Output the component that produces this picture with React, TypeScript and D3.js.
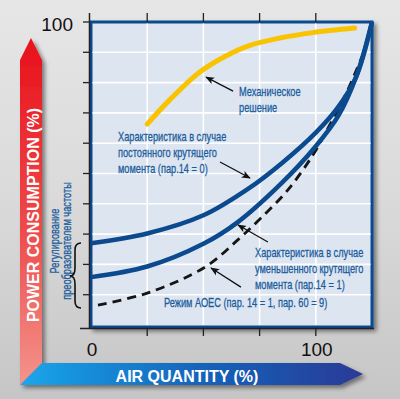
import * as d3 from "d3";

// curves (x = air quantity %, y = power consumption %)
const mechX = [25, 35, 48.4, 60, 70.7, 84, 98.7, 117.3];
const mechY = [66.3, 74.3, 83.5, 88.8, 92.3, 94.7, 96.5, 98];
const constX = [0, 25, 50, 70, 85, 100, 110, 118, 125];
const constY = [27, 30.2, 36.2, 45, 53.5, 63.5, 72, 82, 100];
const reducedX = [0, 25, 50, 65, 85, 100, 110, 118, 125];
const reducedY = [15.8, 19.3, 26.8, 33.8, 47, 59, 69, 82, 100];
const aoecX = [3.1, 25.3, 50.7, 65.3, 75.6, 87.6, 98.7, 106.2, 113.8, 120.9];
const aoecY = [6.6, 10.6, 19.1, 28.1, 35.3, 44.6, 56.1, 66, 76.9, 89.1];

const gridX = [25, 50, 75, 100];
const gridY = [10, 20, 30, 40, 50, 60, 70, 80, 90];
const xTickLabels = [0, 100];
const yTickLabels = [100];

// annotation arrows: [fromX, fromY, toX, toY] in data units
const arrows = [
  [63.2, 77.2, 51.2, 81.8],
  [57.4, 53.8, 70.7, 48.5],
  [78.7, 27.4, 65.4, 33.0],
  [66.7, 12.5, 53.4, 18.8],
];

const mechLabel = ["Механическое", "решение"];
const constLabel = ["Характеристика в случае", "постоянного крутящего", "момента (пар.14 = 0)"];
const reducedLabel = ["Характеристика в случае", "уменьшенного крутящего", "момента (пар.14 = 1)"];
const aoecLabel = "Режим АОЕС  (пар. 14 = 1, пар. 60 = 9)";
const vfdLabel = ["Регулирование", "преобразователем частоты"];

const W = 400;
const H = 399;
const BLUE = "#0b4a8e";
const TEXT_BLUE = "#1b5c9c";
const SANS = "'Liberation Sans', Arial, sans-serif";
const SQUEEZE = 0.71; // no condensed face installed, so squeeze horizontally

function Narrow({ x, y, rotate = 0, anchor = "start", children }: any) {
  return (
    <text
      transform={`translate(${x},${y}) rotate(${rotate}) scale(${SQUEEZE},1)`}
      textAnchor={anchor}
    >
      {children}
    </text>
  );
}

export default function App() {
  const x = d3.scaleLinear().domain([0, 125]).range([91, 372]);
  const y = d3.scaleLinear().domain([0, 100]).range([325, 22]);

  const line = d3
    .line<number>()
    .x((d) => x(d))
    .curve(d3.curveCatmullRom.alpha(0.5));
  const path = (xs: number[], ys: number[]) => line.y((_, i) => y(ys[i]))(xs) || "";

  const left = x(0);
  const right = x(125);
  const top = y(100);
  const bottom = y(0);

  return (
    <svg width={W} height={H} style={{ position: "absolute", left: 0, top: 0 }}>
      <defs>
        <linearGradient id="bg" x1="0" y1="0" x2="0" y2="1">
          <stop offset="0" stopColor="#e6e6e6" />
          <stop offset="0.5" stopColor="#dadada" />
          <stop offset="1" stopColor="#c6c6c6" />
        </linearGradient>
        <linearGradient id="red" x1="0" y1="0" x2="0" y2="1">
          <stop offset="0" stopColor="#e8111b" />
          <stop offset="0.55" stopColor="#ee4a4a" />
          <stop offset="1" stopColor="#f3948c" />
        </linearGradient>
        <linearGradient id="blue" x1="0" y1="0" x2="1" y2="0">
          <stop offset="0" stopColor="#1ba7ea" />
          <stop offset="0.5" stopColor="#1266bd" />
          <stop offset="1" stopColor="#2b3a96" />
        </linearGradient>
        <filter id="shadow" x="-10%" y="-10%" width="130%" height="130%">
          <feDropShadow dx="3" dy="3" stdDeviation="2" floodColor="#000" floodOpacity="0.45" />
        </filter>
        <marker id="head" viewBox="0 0 10 10" refX="9" refY="5" markerWidth="9" markerHeight="9" orient="auto" markerUnits="userSpaceOnUse">
          <path d="M0,1 L10,5 L0,9 L2.5,5 Z" fill="#111" />
        </marker>
      </defs>

      <rect width={W} height={H} fill="url(#bg)" />

      {/* axis arrows */}
      <g filter="url(#shadow)">
        <path d="M20,60 L31,38 L42,60 L42,363 L20,385 Z" fill="url(#red)" />
        <path d="M20,385 L42,363 L340,363 L363,374 L340,385 Z" fill="url(#blue)" />
      </g>
      <text
        transform="translate(39,215) rotate(-90)"
        textAnchor="middle"
        fontFamily={SANS}
        fontWeight="bold"
        fontSize={16}
        fill="#fff"
      >
        POWER CONSUMPTION (%)
      </text>
      <text x={187} y={382} textAnchor="middle" fontFamily={SANS} fontWeight="bold" fontSize={16} fill="#fff">
        AIR QUANTITY (%)
      </text>

      {/* plot frame */}
      <rect
        x={left}
        y={top}
        width={right - left}
        height={bottom - top + 2}
        fill="#dde5f0"
        stroke={BLUE}
        strokeWidth={3}
        filter="url(#shadow)"
      />
      {gridX.map((v) => (
        <line key={"gx" + v} x1={x(v)} x2={x(v)} y1={top + 1.5} y2={bottom} stroke="#fff" strokeWidth={1.6} />
      ))}
      {gridY.map((v) => (
        <line key={"gy" + v} x1={left + 1.5} x2={right - 1.5} y1={y(v)} y2={y(v)} stroke="#fff" strokeWidth={1.6} />
      ))}

      {/* black axes and ticks */}
      <line x1={left - 1.5} x2={left - 1.5} y1={13} y2={bottom + 4} stroke="#222" strokeWidth={1.5} />
      <line x1={80} x2={right + 2} y1={bottom + 3.5} y2={bottom + 3.5} stroke="#222" strokeWidth={1.5} />
      {[100, ...gridY].map((v) => (
        <line key={"ty" + v} x1={83} x2={left - 1.5} y1={y(v)} y2={y(v)} stroke="#222" strokeWidth={1.3} />
      ))}
      {gridX.map((v) => (
        <g key={"tx" + v}>
          <line x1={x(v)} x2={x(v)} y1={13} y2={top} stroke="#222" strokeWidth={1.3} />
          <line x1={x(v)} x2={x(v)} y1={bottom + 3} y2={bottom + 11} stroke="#222" strokeWidth={1.3} />
        </g>
      ))}

      {yTickLabels.map((v) => (
        <text key={"yl" + v} x={73} y={y(v) + 9} textAnchor="end" fontFamily={SANS} fontSize={19} fill="#111">
          {v}
        </text>
      ))}
      {xTickLabels.map((v) => (
        <text key={"xl" + v} x={x(v) + 1} y={356} textAnchor="middle" fontFamily={SANS} fontSize={19} fill="#111">
          {v}
        </text>
      ))}

      {/* curves */}
      <path d={path(aoecX, aoecY)} fill="none" stroke="#151515" strokeWidth={2.8} strokeDasharray="9 6" />
      <path d={path(reducedX, reducedY)} fill="none" stroke={BLUE} strokeWidth={4.5} />
      <path d={path(constX, constY)} fill="none" stroke={BLUE} strokeWidth={4.5} />
      <path d={path(mechX, mechY)} fill="none" stroke="#f9c300" strokeWidth={5} strokeLinecap="round" />

      {arrows.map((a, i) => (
        <line
          key={"ar" + i}
          x1={x(a[0])}
          y1={y(a[1])}
          x2={x(a[2])}
          y2={y(a[3])}
          stroke="#111"
          strokeWidth={1.3}
          markerEnd="url(#head)"
        />
      ))}

      {/* labels */}
      <g fontFamily={SANS} fontSize={13} fill={TEXT_BLUE} stroke={TEXT_BLUE} strokeWidth={0.3}>
        {mechLabel.map((t, i) => (
          <Narrow key={"m" + i} x={239} y={96 + i * 16}>
            {t}
          </Narrow>
        ))}
        {constLabel.map((t, i) => (
          <Narrow key={"c" + i} x={118} y={141 + i * 16}>
            {t}
          </Narrow>
        ))}
        {reducedLabel.map((t, i) => (
          <Narrow key={"r" + i} x={255} y={257 + i * 16}>
            {t}
          </Narrow>
        ))}
        <Narrow x={164} y={307}>
          {aoecLabel}
        </Narrow>
        {vfdLabel.map((t, i) => (
          <Narrow key={"v" + i} x={59 + i * 12} y={241} rotate={-90} anchor="middle">
            {t}
          </Narrow>
        ))}
      </g>

      {/* brace */}
      <path
        d="M81,243 Q75,243 75,250 L75,268 Q75,276 70,276 Q75,276 75,284 L75,301 Q75,308 81,308"
        fill="none"
        stroke="#111"
        strokeWidth={1.6}
      />
    </svg>
  );
}
